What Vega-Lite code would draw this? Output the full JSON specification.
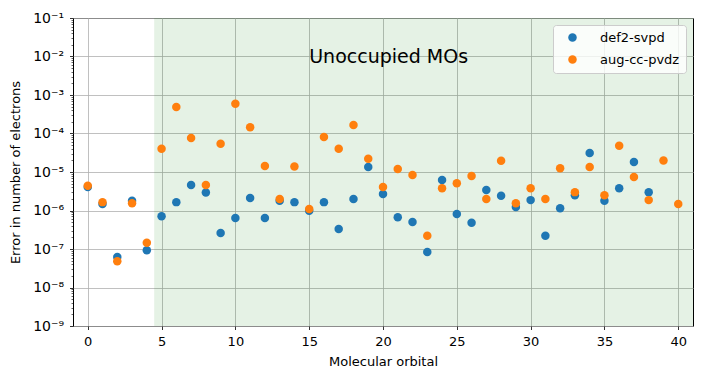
{
  "$schema": "https://vega.github.io/schema/vega-lite/v6.json",
  "width": 620,
  "height": 308,
  "autosize": {"type": "none"},
  "padding": {"left": 73, "top": 18, "right": 9, "bottom": 53},
  "background": "white",
  "config": {
    "font": "DejaVu Sans",
    "view": {"stroke": "black", "strokeWidth": 1},
    "axis": {"labelFont": "DejaVu Sans", "titleFont": "DejaVu Sans", "labelColor": "black", "titleColor": "black", "titleFontWeight": "normal", "domain": false, "tickColor": "black", "gridColor": "#b0b0b0", "gridWidth": 0.8, "zindex": 1}
  },
  "datasets": {
    "span": [{"start": 4.5, "end": 41}],
    "note": [{"mo": 15, "err": 0.0095, "label": "Unoccupied MOs"}],
    "errors": [
      {"mo": 0, "basis": "def2-svpd", "err": 4.1e-6},
      {"mo": 1, "basis": "def2-svpd", "err": 1.48e-6},
      {"mo": 2, "basis": "def2-svpd", "err": 6.2e-8},
      {"mo": 3, "basis": "def2-svpd", "err": 1.78e-6},
      {"mo": 4, "basis": "def2-svpd", "err": 9.3e-8},
      {"mo": 5, "basis": "def2-svpd", "err": 7.1e-7},
      {"mo": 6, "basis": "def2-svpd", "err": 1.65e-6},
      {"mo": 7, "basis": "def2-svpd", "err": 4.6e-6},
      {"mo": 8, "basis": "def2-svpd", "err": 2.95e-6},
      {"mo": 9, "basis": "def2-svpd", "err": 2.6e-7},
      {"mo": 10, "basis": "def2-svpd", "err": 6.4e-7},
      {"mo": 11, "basis": "def2-svpd", "err": 2.1e-6},
      {"mo": 12, "basis": "def2-svpd", "err": 6.4e-7},
      {"mo": 13, "basis": "def2-svpd", "err": 1.78e-6},
      {"mo": 14, "basis": "def2-svpd", "err": 1.65e-6},
      {"mo": 15, "basis": "def2-svpd", "err": 9.8e-7},
      {"mo": 16, "basis": "def2-svpd", "err": 1.65e-6},
      {"mo": 17, "basis": "def2-svpd", "err": 3.3e-7},
      {"mo": 18, "basis": "def2-svpd", "err": 2.0e-6},
      {"mo": 19, "basis": "def2-svpd", "err": 1.35e-5},
      {"mo": 20, "basis": "def2-svpd", "err": 2.7e-6},
      {"mo": 21, "basis": "def2-svpd", "err": 6.7e-7},
      {"mo": 22, "basis": "def2-svpd", "err": 5.0e-7},
      {"mo": 23, "basis": "def2-svpd", "err": 8.3e-8},
      {"mo": 24, "basis": "def2-svpd", "err": 6.2e-6},
      {"mo": 25, "basis": "def2-svpd", "err": 8.1e-7},
      {"mo": 26, "basis": "def2-svpd", "err": 4.8e-7},
      {"mo": 27, "basis": "def2-svpd", "err": 3.4e-6},
      {"mo": 28, "basis": "def2-svpd", "err": 2.4e-6},
      {"mo": 29, "basis": "def2-svpd", "err": 1.23e-6},
      {"mo": 30, "basis": "def2-svpd", "err": 1.86e-6},
      {"mo": 31, "basis": "def2-svpd", "err": 2.2e-7},
      {"mo": 32, "basis": "def2-svpd", "err": 1.15e-6},
      {"mo": 33, "basis": "def2-svpd", "err": 2.5e-6},
      {"mo": 34, "basis": "def2-svpd", "err": 3.1e-5},
      {"mo": 35, "basis": "def2-svpd", "err": 1.78e-6},
      {"mo": 36, "basis": "def2-svpd", "err": 3.8e-6},
      {"mo": 37, "basis": "def2-svpd", "err": 1.82e-5},
      {"mo": 38, "basis": "def2-svpd", "err": 3.0e-6},
      {"mo": 0, "basis": "aug-cc-pvdz", "err": 4.4e-6},
      {"mo": 1, "basis": "aug-cc-pvdz", "err": 1.65e-6},
      {"mo": 2, "basis": "aug-cc-pvdz", "err": 4.8e-8},
      {"mo": 3, "basis": "aug-cc-pvdz", "err": 1.55e-6},
      {"mo": 4, "basis": "aug-cc-pvdz", "err": 1.45e-7},
      {"mo": 5, "basis": "aug-cc-pvdz", "err": 4.0e-5},
      {"mo": 6, "basis": "aug-cc-pvdz", "err": 4.9e-4},
      {"mo": 7, "basis": "aug-cc-pvdz", "err": 7.6e-5},
      {"mo": 8, "basis": "aug-cc-pvdz", "err": 4.6e-6},
      {"mo": 9, "basis": "aug-cc-pvdz", "err": 5.4e-5},
      {"mo": 10, "basis": "aug-cc-pvdz", "err": 5.9e-4},
      {"mo": 11, "basis": "aug-cc-pvdz", "err": 1.45e-4},
      {"mo": 12, "basis": "aug-cc-pvdz", "err": 1.44e-5},
      {"mo": 13, "basis": "aug-cc-pvdz", "err": 2.0e-6},
      {"mo": 14, "basis": "aug-cc-pvdz", "err": 1.38e-5},
      {"mo": 15, "basis": "aug-cc-pvdz", "err": 1.1e-6},
      {"mo": 16, "basis": "aug-cc-pvdz", "err": 8.1e-5},
      {"mo": 17, "basis": "aug-cc-pvdz", "err": 4.0e-5},
      {"mo": 18, "basis": "aug-cc-pvdz", "err": 1.66e-4},
      {"mo": 19, "basis": "aug-cc-pvdz", "err": 2.2e-5},
      {"mo": 20, "basis": "aug-cc-pvdz", "err": 4.1e-6},
      {"mo": 21, "basis": "aug-cc-pvdz", "err": 1.2e-5},
      {"mo": 22, "basis": "aug-cc-pvdz", "err": 8.3e-6},
      {"mo": 23, "basis": "aug-cc-pvdz", "err": 2.2e-7},
      {"mo": 24, "basis": "aug-cc-pvdz", "err": 3.8e-6},
      {"mo": 25, "basis": "aug-cc-pvdz", "err": 5.1e-6},
      {"mo": 26, "basis": "aug-cc-pvdz", "err": 7.9e-6},
      {"mo": 27, "basis": "aug-cc-pvdz", "err": 2.0e-6},
      {"mo": 28, "basis": "aug-cc-pvdz", "err": 1.95e-5},
      {"mo": 29, "basis": "aug-cc-pvdz", "err": 1.55e-6},
      {"mo": 30, "basis": "aug-cc-pvdz", "err": 3.8e-6},
      {"mo": 31, "basis": "aug-cc-pvdz", "err": 2.0e-6},
      {"mo": 32, "basis": "aug-cc-pvdz", "err": 1.26e-5},
      {"mo": 33, "basis": "aug-cc-pvdz", "err": 3.0e-6},
      {"mo": 34, "basis": "aug-cc-pvdz", "err": 1.35e-5},
      {"mo": 35, "basis": "aug-cc-pvdz", "err": 2.5e-6},
      {"mo": 36, "basis": "aug-cc-pvdz", "err": 4.8e-5},
      {"mo": 37, "basis": "aug-cc-pvdz", "err": 7.4e-6},
      {"mo": 38, "basis": "aug-cc-pvdz", "err": 1.86e-6},
      {"mo": 39, "basis": "aug-cc-pvdz", "err": 2.0e-5},
      {"mo": 40, "basis": "aug-cc-pvdz", "err": 1.48e-6}
    ]
  },
  "layer": [
    {
      "data": {"name": "span"},
      "mark": {"type": "rect", "color": "green", "opacity": 0.1},
      "encoding": {
        "x": {"field": "start", "type": "quantitative", "scale": {"domain": [-1, 41], "nice": false, "zero": false}},
        "x2": {"field": "end"}
      }
    },
    {
      "data": {"name": "errors"},
      "mark": {"type": "circle", "size": 72, "opacity": 1},
      "encoding": {
        "x": {
          "field": "mo", "type": "quantitative",
          "scale": {"domain": [-1, 41], "nice": false, "zero": false},
          "axis": {"title": "Molecular orbital", "values": [0, 5, 10, 15, 20, 25, 30, 35, 40], "labelFontSize": 13, "titleFontSize": 13, "tickSize": 3.5, "tickWidth": 0.8, "labelPadding": 6, "titlePadding": 7, "gridOpacity": 1}
        },
        "y": {
          "field": "err", "type": "quantitative",
          "scale": {"type": "log", "domain": [1e-9, 0.1], "nice": false},
          "axis": {
            "title": "Error in number of electrons",
            "titleFontSize": 13,
            "labelFontSize": 14,
            "labelOverlap": false,
            "labelPadding": 6,
            "titlePadding": 10,
            "values": [1e-9,2e-9,3e-9,4e-9,5e-9,6e-9,7e-9,8e-9,9e-9,1e-8,2e-8,3e-8,4e-8,5e-8,6e-8,7e-8,8e-8,9e-8,1e-7,2e-7,3e-7,4e-7,5e-7,6e-7,7e-7,8e-7,9e-7,1e-6,2e-6,3e-6,4e-6,5e-6,6e-6,7e-6,8e-6,9e-6,1e-5,2e-5,3e-5,4e-5,5e-5,6e-5,7e-5,8e-5,9e-5,1e-4,2e-4,3e-4,4e-4,5e-4,6e-4,7e-4,8e-4,9e-4,1e-3,2e-3,3e-3,4e-3,5e-3,6e-3,7e-3,8e-3,9e-3,1e-2,2e-2,3e-2,4e-2,5e-2,6e-2,7e-2,8e-2,9e-2,1e-1],
            "labelExpr": "abs(log(datum.value)/LN10 - round(log(datum.value)/LN10)) < 0.001 ? '10' + ['⁰','⁻¹','⁻²','⁻³','⁻⁴','⁻⁵','⁻⁶','⁻⁷','⁻⁸','⁻⁹'][round(-log(datum.value)/LN10)] : ''",
            "tickSize": {"condition": {"test": "abs(log(datum.value)/LN10 - round(log(datum.value)/LN10)) < 0.001", "value": 3.5}, "value": 2},
            "tickWidth": {"condition": {"test": "abs(log(datum.value)/LN10 - round(log(datum.value)/LN10)) < 0.001", "value": 0.8}, "value": 0.6},
            "gridOpacity": {"condition": {"test": "abs(log(datum.value)/LN10 - round(log(datum.value)/LN10)) < 0.001", "value": 1}, "value": 0}
          }
        },
        "color": {
          "field": "basis", "type": "nominal",
          "scale": {"domain": ["def2-svpd", "aug-cc-pvdz"], "range": ["#1f77b4", "#ff7f0e"]},
          "legend": {
            "title": null,
            "orient": "top-right",
            "offset": 7,
            "labelFontSize": 13,
            "labelFont": "DejaVu Sans",
            "labelColor": "black",
            "symbolSize": 72,
            "symbolType": "circle",
            "symbolOffset": 7,
            "labelOffset": 21,
            "rowPadding": 8,
            "padding": 6,
            "fillColor": "rgba(255,255,255,0.8)",
            "strokeColor": "#cccccc",
            "cornerRadius": 3
          }
        }
      }
    },
    {
      "data": {"name": "note"},
      "mark": {"type": "text", "align": "left", "baseline": "middle", "fontSize": 19, "font": "DejaVu Sans", "color": "black"},
      "encoding": {
        "x": {"field": "mo", "type": "quantitative"},
        "y": {"field": "err", "type": "quantitative"},
        "text": {"field": "label"}
      }
    }
  ]
}
